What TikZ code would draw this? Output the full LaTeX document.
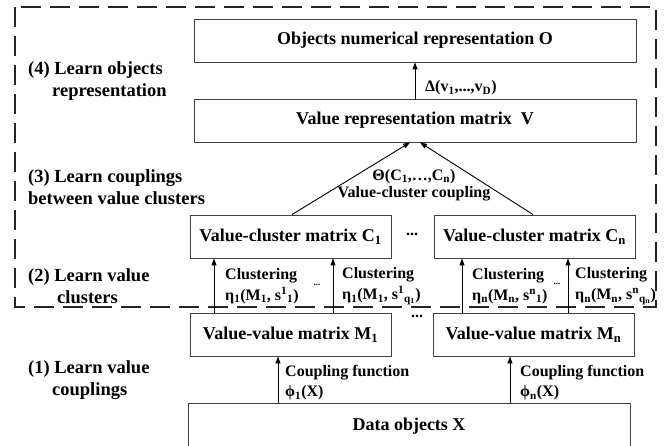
\documentclass[tikz,border=0pt]{standalone}
\usepackage{fontspec}
\setmainfont{Liberation Serif}
\usetikzlibrary{arrows.meta}
\begin{document}
\begin{tikzpicture}[x=1pt,y=-1pt,
  box/.style={draw=black!75, line width=0.9pt, rectangle, inner sep=0pt, minimum height=43pt, font=\fontsize{18}{21.6}\selectfont\bfseries},
  arr/.style={-{Triangle[length=7pt,width=5pt]}, line width=0.9pt},
  steplbl/.style={anchor=west, inner sep=0pt, align=left, font=\fontsize{18.5}{22}\selectfont\bfseries},
  edgelbl/.style={anchor=west, inner sep=0pt, align=left, font=\fontsize{16}{21}\selectfont\bfseries},
  cplbl/.style={anchor=west, inner sep=0pt, align=left, font=\fontsize{16}{20}\selectfont\bfseries},
  dots/.style={inner sep=0pt, font=\fontsize{16}{18}\selectfont\bfseries},
  smalldots/.style={inner sep=0pt, font=\fontsize{9}{10}\selectfont\bfseries},
]
\useasboundingbox (0,0) rectangle (664,446);
\clip (0,0) rectangle (664,446);
\draw[black!85, line width=1.4pt, dash pattern=on 20pt off 9pt] (15,7) rectangle (656,307);

\node[box, minimum width=442pt] (O) at (415,40.5) {Objects numerical representation O};
\node[box, minimum width=442pt] (V) at (415,120.5) {Value representation matrix \ V};
\node[box, minimum width=201pt] (C1) at (290.5,236.5) {Value-cluster matrix C\textsubscript{1}};
\node[box, minimum width=201pt] (Cn) at (534.5,236.5) {Value-cluster matrix C\textsubscript{n}};
\node[box, minimum width=201pt] (M1) at (290.5,334.5) {Value-value matrix M\textsubscript{1}};
\node[box, minimum width=201pt] (Mn) at (533.5,334.5) {Value-value matrix M\textsubscript{n}};
\node[box, minimum width=442pt, minimum height=67pt, text depth=24pt] (X) at (409,436.5) {Data objects X};

\coordinate (a11) at (214,0);
\coordinate (a12) at (333,0);
\coordinate (an1) at (462,0);
\coordinate (an2) at (568,0);
\coordinate (b1) at (278,0);
\coordinate (bn) at (510,0);

\draw[arr] (V.north) -- (O.south);
\draw[arr] ([xshift=1.5pt]C1.north) -- ([xshift=-5pt]V.south);
\draw[arr] ([xshift=-1.5pt]Cn.north) -- ([xshift=5pt]V.south);
\draw[arr] (M1.north -| a11) -- (C1.south -| a11);
\draw[arr] (M1.north -| a12) -- (C1.south -| a12);
\draw[arr] (Mn.north -| an1) -- (Cn.south -| an1);
\draw[arr] (Mn.north -| an2) -- (Cn.south -| an2);
\draw[arr] (X.north -| b1) -- (M1.south -| b1);
\draw[arr] (X.north -| bn) -- (Mn.south -| bn);

\node[cplbl] (dl) at (425,88) {Δ(v\textsubscript{1},...,v\textsubscript{D})};
\node[inner sep=0pt, align=center, font=\fontsize{16}{17}\selectfont\bfseries] (tl) at (414,185) {Θ(C\textsubscript{1},…,C\textsubscript{n})\\Value-cluster coupling};

\node[edgelbl] (l11) at (225,286) {Clustering\\η\textsubscript{1}(M\textsubscript{1}, s\textsuperscript{1}\textsubscript{1})};
\node[edgelbl] (l12) at (342,286) {Clustering\\η\textsubscript{1}(M\textsubscript{1}, s\textsuperscript{1}\textsubscript{q\textsubscript{1}})};
\node[edgelbl] (ln1) at (472,286) {Clustering\\η\textsubscript{n}(M\textsubscript{n}, s\textsuperscript{n}\textsubscript{1})};
\node[edgelbl] (ln2) at (575,286) {Clustering\\η\textsubscript{n}(M\textsubscript{n}, s\textsuperscript{n}\textsubscript{q\textsubscript{n}})};

\node[cplbl] (c1l) at (285,383) {Coupling function\\ϕ\textsubscript{1}(X)};
\node[cplbl] (cnl) at (520,383) {Coupling function\\ϕ\textsubscript{n}(X)};

\node[dots] (d1) at (412,234) {...};
\node[dots] (d2) at (417,316) {...};
\node[smalldots] (d3) at (317,285) {...};
\node[smalldots] (d4) at (557,284) {...};

\node[steplbl] (s4) at (28,81) {(4) Learn objects\\\hspace*{24pt}representation};
\node[steplbl] (s3) at (28,187.5) {(3) Learn couplings\\between value clusters};
\node[steplbl] (s2) at (28,286) {(2) Learn value\\\hspace*{29pt}clusters};
\node[steplbl] (s1) at (28,380.5) {(1) Learn value\\\hspace*{24pt}couplings};
\end{tikzpicture}
\end{document}
